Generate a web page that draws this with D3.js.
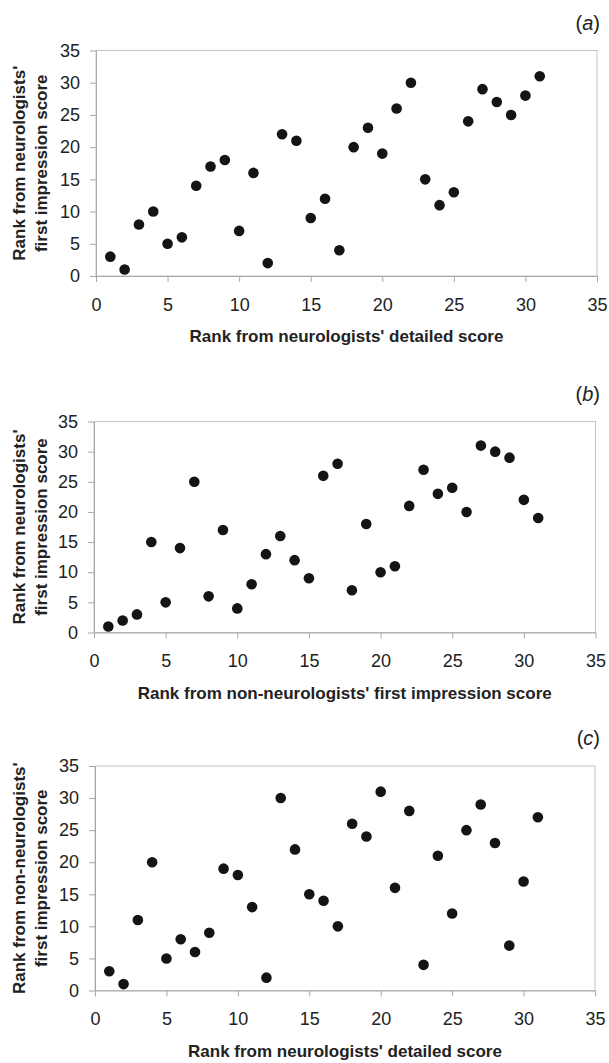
<!DOCTYPE html>
<html>
<head>
<meta charset="utf-8">
<script src="https://cdn.jsdelivr.net/npm/d3@7"></script>
<style>
  body { margin: 0; background: #fff; }
  svg { display: block; }
  .tick text { font-family: "Liberation Sans", Arial, sans-serif; font-size: 18px; fill: #222; }
  .tick line, .domain { stroke: #a8a8a8; }
  .title { font-family: "Liberation Sans", Arial, sans-serif; font-size: 17px; font-weight: bold; fill: #222; }
  .tag { font-family: "Liberation Sans", Arial, sans-serif; font-size: 20px; fill: #222; }
</style>
</head>
<body>
<div class="canvas"></div>
<script>
// ranks 1..31 on the x axis
const ranks = [1,2,3,4,5,6,7,8,9,10,11,12,13,14,15,16,17,18,19,20,21,22,23,24,25,26,27,28,29,30,31];

// (a) neurologists' detailed vs neurologists' first impression
const rankA = [3,1,8,10,5,6,14,17,18,7,16,2,22,21,9,12,4,20,23,19,26,30,15,11,13,24,29,27,25,28,31];
// (b) non-neurologists' first impression vs neurologists' first impression
const rankB = [1,2,3,15,5,14,25,6,17,4,8,13,16,12,9,26,28,7,18,10,11,21,27,23,24,20,31,30,29,22,19];
// (c) neurologists' detailed vs non-neurologists' first impression
const rankC = [3,1,11,20,5,8,6,9,19,18,13,2,30,22,15,14,10,26,24,31,16,28,4,21,12,25,29,23,7,17,27];

const tickVals = [0,5,10,15,20,25,30,35];
const tags = ['a','b','c'];
const xTitles = ["Rank from neurologists' detailed score",
                 "Rank from non-neurologists' first impression score",
                 "Rank from neurologists' detailed score"];
const yTitles = [["Rank from neurologists'","first impression score"],
                 ["Rank from neurologists'","first impression score"],
                 ["Rank from non-neurologists'","first impression score"]];
const series = [rankA, rankB, rankC];

const dims = {width: 609, height: 1063};

// panel boxes (pixels)
const panels = [
  {left: 96, right: 597, top: 50.5, bottom: 276},
  {left: 94, right: 595.5, top: 421.5, bottom: 632.5},
  {left: 95, right: 595, top: 766, bottom: 990.5}
];

const svg = d3.select('.canvas').append('svg')
  .attr('width', dims.width)
  .attr('height', dims.height);

panels.forEach((p, i) => {
  const x = d3.scaleLinear().domain([0,35]).range([p.left, p.right]);
  const y = d3.scaleLinear().domain([0,35]).range([p.bottom, p.top]);
  const g = svg.append('g');

  // frame
  g.append('rect')
    .attr('x', p.left).attr('y', p.top)
    .attr('width', p.right - p.left).attr('height', p.bottom - p.top)
    .attr('fill', 'none').attr('stroke', '#c4c4c4');

  g.append('g')
    .attr('transform', `translate(0,${p.bottom})`)
    .call(d3.axisBottom(x).tickValues(tickVals).tickSize(6).tickPadding(16).tickSizeOuter(0));

  g.append('g')
    .attr('transform', `translate(${p.left},0)`)
    .call(d3.axisLeft(y).tickValues(tickVals).tickSize(6).tickPadding(10).tickSizeOuter(0));

  g.selectAll('circle')
    .data(series[i])
    .enter().append('circle')
      .attr('cx', (d, j) => x(ranks[j]))
      .attr('cy', d => y(d))
      .attr('r', 5.3)
      .attr('fill', '#141414');

  // x title
  g.append('text').attr('class', 'title')
    .attr('x', (p.left + p.right) / 2).attr('y', p.bottom + 66)
    .attr('text-anchor', 'middle')
    .text(xTitles[i]);

  // y title, two lines
  const yt = g.append('text').attr('class', 'title')
    .attr('transform', `translate(0,${(p.top + p.bottom) / 2}) rotate(-90)`)
    .attr('text-anchor', 'middle');
  yTitles[i].forEach((line, k) => {
    yt.append('tspan').attr('x', 0).attr('y', 25 + k * 22).text(line);
  });

  // panel tag
  const tg = g.append('text').attr('class', 'tag')
    .attr('x', 600).attr('y', p.top - 21).attr('text-anchor', 'end');
  tg.append('tspan').text('(');
  tg.append('tspan').attr('font-style', 'italic').text(tags[i]);
  tg.append('tspan').text(')');
});
</script>
</body>
</html>
